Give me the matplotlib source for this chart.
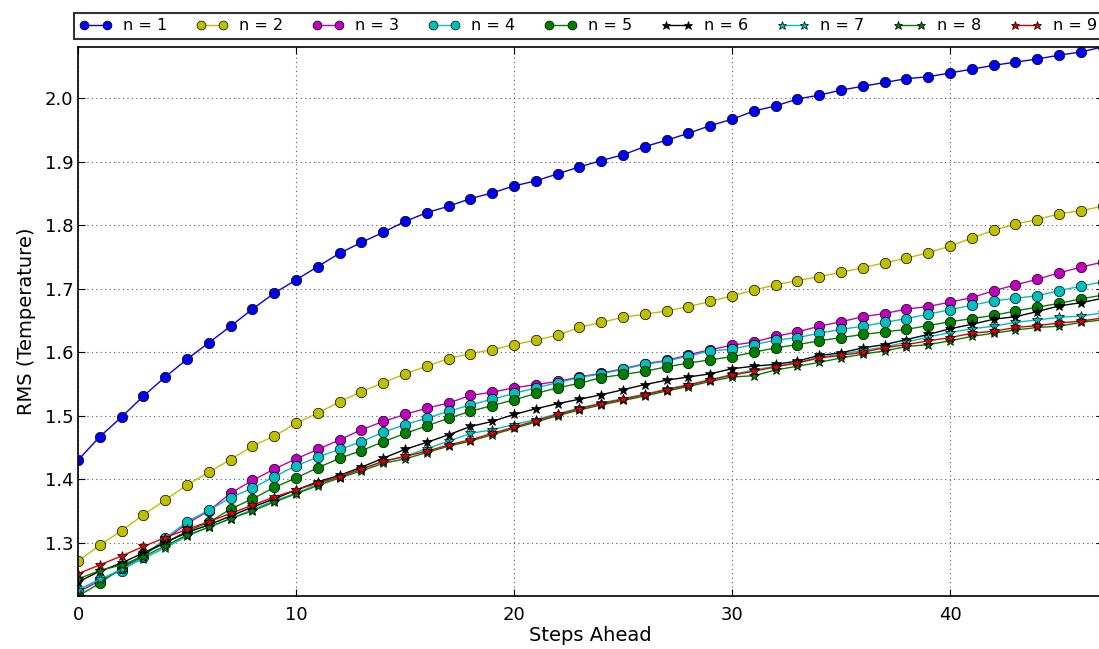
import numpy as np
import matplotlib
matplotlib.use("Agg")
import matplotlib.pyplot as plt

steps = np.arange(48)

rms_n1 = [1.430, 1.467, 1.498, 1.531, 1.561, 1.589, 1.615, 1.641, 1.668, 1.693,
          1.714, 1.735, 1.756, 1.773, 1.789, 1.806, 1.820, 1.830, 1.842, 1.851,
          1.862, 1.870, 1.881, 1.892, 1.902, 1.911, 1.924, 1.934, 1.945, 1.957,
          1.967, 1.980, 1.988, 1.999, 2.005, 2.013, 2.019, 2.025, 2.031, 2.034,
          2.040, 2.046, 2.052, 2.057, 2.062, 2.068, 2.073, 2.081]
rms_n2 = [1.271, 1.296, 1.319, 1.344, 1.367, 1.391, 1.411, 1.431, 1.452, 1.468,
          1.488, 1.504, 1.522, 1.538, 1.552, 1.566, 1.578, 1.590, 1.598, 1.604,
          1.612, 1.619, 1.627, 1.639, 1.647, 1.655, 1.660, 1.665, 1.672, 1.680,
          1.689, 1.698, 1.706, 1.713, 1.719, 1.726, 1.733, 1.741, 1.748, 1.757,
          1.767, 1.780, 1.792, 1.802, 1.809, 1.818, 1.823, 1.830]
rms_n3 = [1.222, 1.240, 1.258, 1.280, 1.305, 1.330, 1.350, 1.378, 1.398, 1.416,
          1.432, 1.447, 1.462, 1.478, 1.491, 1.502, 1.512, 1.520, 1.532, 1.537,
          1.544, 1.549, 1.554, 1.561, 1.567, 1.574, 1.582, 1.587, 1.596, 1.604,
          1.611, 1.616, 1.625, 1.632, 1.641, 1.648, 1.656, 1.661, 1.668, 1.672,
          1.679, 1.686, 1.697, 1.706, 1.715, 1.725, 1.734, 1.742]
rms_n4 = [1.225, 1.242, 1.256, 1.278, 1.307, 1.333, 1.351, 1.371, 1.386, 1.404,
          1.421, 1.435, 1.447, 1.459, 1.474, 1.486, 1.496, 1.507, 1.517, 1.526,
          1.535, 1.544, 1.552, 1.560, 1.566, 1.573, 1.581, 1.586, 1.594, 1.602,
          1.605, 1.612, 1.619, 1.623, 1.630, 1.636, 1.641, 1.647, 1.653, 1.660,
          1.667, 1.674, 1.681, 1.685, 1.689, 1.697, 1.704, 1.711]
rms_n5 = [1.216, 1.236, 1.260, 1.282, 1.300, 1.318, 1.332, 1.353, 1.369, 1.387,
          1.402, 1.418, 1.433, 1.445, 1.459, 1.472, 1.484, 1.496, 1.507, 1.516,
          1.525, 1.535, 1.544, 1.551, 1.560, 1.565, 1.570, 1.577, 1.583, 1.588,
          1.593, 1.600, 1.607, 1.612, 1.618, 1.623, 1.628, 1.632, 1.636, 1.642,
          1.648, 1.653, 1.658, 1.665, 1.671, 1.677, 1.684, 1.690]
rms_n6 = [1.238, 1.255, 1.268, 1.284, 1.300, 1.316, 1.328, 1.342, 1.356, 1.369,
          1.383, 1.396, 1.406, 1.419, 1.433, 1.447, 1.458, 1.470, 1.483, 1.491,
          1.502, 1.511, 1.519, 1.526, 1.533, 1.541, 1.549, 1.556, 1.561, 1.566,
          1.574, 1.578, 1.581, 1.586, 1.595, 1.599, 1.607, 1.612, 1.620, 1.628,
          1.637, 1.644, 1.652, 1.656, 1.664, 1.673, 1.678, 1.685]
rms_n7 = [1.226, 1.242, 1.258, 1.275, 1.292, 1.310, 1.325, 1.338, 1.352, 1.366,
          1.378, 1.392, 1.404, 1.416, 1.428, 1.436, 1.448, 1.460, 1.472, 1.478,
          1.486, 1.494, 1.503, 1.512, 1.520, 1.527, 1.534, 1.542, 1.549, 1.557,
          1.565, 1.572, 1.578, 1.584, 1.592, 1.597, 1.603, 1.608, 1.616, 1.624,
          1.631, 1.637, 1.641, 1.647, 1.651, 1.655, 1.657, 1.662]
rms_n8 = [1.243, 1.256, 1.265, 1.278, 1.295, 1.312, 1.324, 1.338, 1.350, 1.364,
          1.377, 1.390, 1.402, 1.413, 1.425, 1.432, 1.442, 1.452, 1.460, 1.470,
          1.480, 1.490, 1.500, 1.509, 1.517, 1.524, 1.531, 1.539, 1.546, 1.554,
          1.561, 1.563, 1.572, 1.578, 1.584, 1.591, 1.597, 1.602, 1.609, 1.612,
          1.618, 1.625, 1.630, 1.635, 1.639, 1.641, 1.647, 1.651]
rms_n9 = [1.251, 1.265, 1.279, 1.294, 1.308, 1.321, 1.333, 1.346, 1.359, 1.372,
          1.383, 1.394, 1.404, 1.416, 1.428, 1.436, 1.444, 1.454, 1.462, 1.472,
          1.482, 1.492, 1.502, 1.511, 1.519, 1.526, 1.533, 1.541, 1.548, 1.556,
          1.564, 1.570, 1.577, 1.583, 1.591, 1.595, 1.600, 1.607, 1.612, 1.618,
          1.623, 1.630, 1.633, 1.639, 1.642, 1.646, 1.649, 1.654]

series = [rms_n1, rms_n2, rms_n3, rms_n4, rms_n5, rms_n6, rms_n7, rms_n8, rms_n9]
labels = [f"n = {i}" for i in range(1, 10)]
colors = ["#0000ee", "#bfbf00", "#bf00bf", "#00bfbf", "#008000",
          "#000000", "#00bfbf", "#008000", "#e00000"]
markers = ["o", "o", "o", "o", "o", "*", "*", "*", "*"]

fig = plt.figure(figsize=(10.99, 6.49), dpi=100)
ax = fig.add_axes([0.071, 0.0817, 0.9323, 0.846])

for ys, lab, c, m in zip(series, labels, colors, markers):
    ms = 7.5 if m == "o" else 7.5
    ax.plot(steps, ys, marker=m, color=c, lw=1.0, ms=ms, mec="black",
            mew=0.5, label=lab)

ymin = min(min(s) for s in series)
ymax = max(max(s) for s in series)
ax.set_xlim(0, 47)
ax.set_ylim(ymin, ymax)
ax.set_xticks([0, 10, 20, 30, 40])
ax.set_yticks([1.3, 1.4, 1.5, 1.6, 1.7, 1.8, 1.9, 2.0])
ax.tick_params(direction="in", labelsize=13, length=5, top=True, right=True)
ax.tick_params(axis="x", pad=7)
ax.grid(True, color="0.35", ls=(0, (1, 3)), lw=0.8)
for sp in ax.spines.values():
    sp.set_linewidth(1.2)

ax.set_xlabel("Steps Ahead", fontsize=14, labelpad=2)
ax.set_ylabel("RMS (Temperature)", fontsize=14, labelpad=6)

leg = ax.legend(loc="lower left", bbox_to_anchor=(-0.004, 1.0146, 1.004, 0.051),
                mode="expand", ncol=9, borderaxespad=0, numpoints=2,
                fontsize=11.5, fancybox=False, framealpha=1, markerscale=0.85,
                handlelength=2.0, handletextpad=0.7, borderpad=0.35)
leg.get_frame().set_edgecolor("#333333")
leg.get_frame().set_linewidth(1.5)

fig.savefig("out.png", dpi=100, facecolor="white")
